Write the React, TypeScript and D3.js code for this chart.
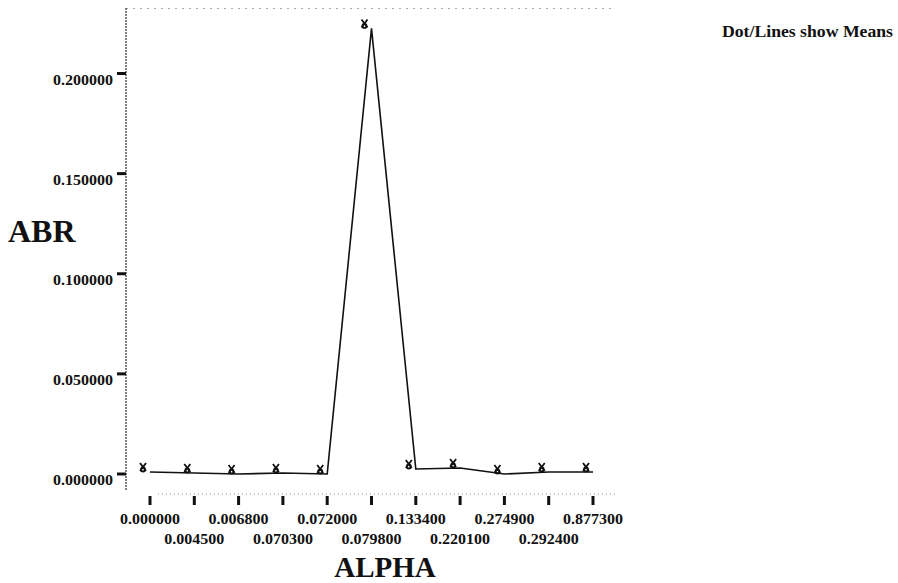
import * as d3 from 'd3';

const ALPHA_LABELS = [
  '0.000000', '0.004500', '0.006800', '0.070300', '0.072000', '0.079800',
  '0.133400', '0.220100', '0.274900', '0.292400', '0.877300',
];
const ABR_MEANS = [0.001, 0.0005, 0.0, 0.0005, 0.0, 0.2225, 0.0025, 0.003, 0.0, 0.001, 0.001];
const Y_TICKS = [0, 0.05, 0.1, 0.15, 0.2];

const W = 898;
const H = 583;
const FONT = '"Liberation Serif", "DejaVu Serif", serif';

export default function App() {
  const x = d3.scalePoint<string>().domain(ALPHA_LABELS).range([150, 593]);
  const y = d3.scaleLinear().domain([0, 0.2]).range([474, 73.5]);
  const fmt = d3.format('.6f');

  const pts: [number, number][] = ALPHA_LABELS.map((a, i) => [x(a)!, y(ABR_MEANS[i])]);
  const line = d3.line()(pts) || '';

  return (
    <svg width={W} height={H} style={{ position: 'absolute', left: 0, top: 0, background: '#fff' }}>
      {/* frame: top border faint dotted, y axis dotted */}
      <line x1={126} x2={612} y1={8.5} y2={8.5} stroke="#aaa" strokeWidth={1} strokeDasharray="2,5" />
      <line x1={126} x2={126} y1={8} y2={491} stroke="#555" strokeWidth={1.5} strokeDasharray="2,1" />
      <line x1={158} x2={615} y1={494} y2={494} stroke="#999" strokeWidth={1} strokeDasharray="1,3" />

      {/* y ticks */}
      {Y_TICKS.map(t => (
        <g key={t}>
          <line x1={117} x2={126} y1={y(t)} y2={y(t)} stroke="#111" strokeWidth={3} />
          <text x={113} y={y(t) + 11} textAnchor="end" fontFamily={FONT} fontSize={15} fontWeight="bold"
            textLength={60} lengthAdjust="spacingAndGlyphs" fill="#111">{fmt(t)}</text>
        </g>
      ))}

      {/* x ticks */}
      {ALPHA_LABELS.map((a, i) => (
        <g key={a}>
          <line x1={x(a)!} x2={x(a)!} y1={496} y2={505} stroke="#111" strokeWidth={3} />
          <text x={x(a)!} y={i % 2 === 0 ? 524 : 544} textAnchor="middle" fontFamily={FONT} fontSize={15}
            fontWeight="bold" textLength={60} lengthAdjust="spacingAndGlyphs" fill="#111">{a}</text>
        </g>
      ))}

      {/* means line */}
      <path d={line} fill="none" stroke="#111" strokeWidth={1.6} />

      {/* markers */}
      {pts.map(([px, py], i) => {
        const cx = px - 7;
        const cy = py - 5;
        return (
          <g key={i} stroke="#111" strokeWidth={1.8} fill="none">
            <line x1={cx - 3} x2={cx + 3} y1={cy - 4} y2={cy + 4} />
            <line x1={cx + 3} x2={cx - 3} y1={cy - 4} y2={cy + 4} />
            <circle cx={cx} cy={cy + 2.5} r={2} />
          </g>
        );
      })}

      {/* titles */}
      <text x={8} y={242} fontFamily={FONT} fontSize={32} fontWeight="bold" fill="#111">ABR</text>
      <text x={385} y={577} textAnchor="middle" fontFamily={FONT} fontSize={29} fontWeight="bold" fill="#111">ALPHA</text>
      <text x={722} y={37} fontFamily={FONT} fontSize={17} fontWeight="bold" textLength={171}
        lengthAdjust="spacingAndGlyphs" fill="#111">Dot/Lines show Means</text>
    </svg>
  );
}
